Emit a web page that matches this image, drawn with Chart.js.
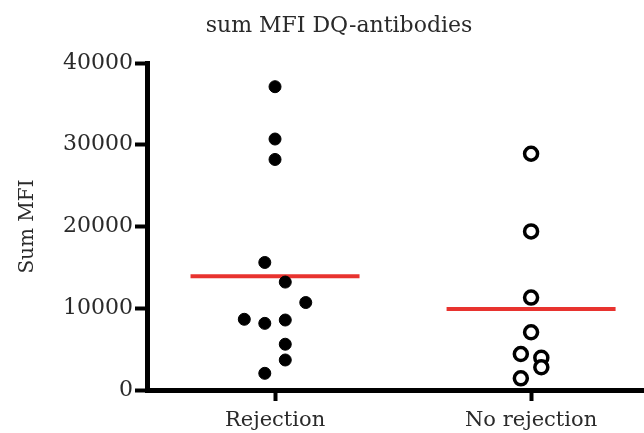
<!DOCTYPE html>
<html>
<head>
<meta charset="utf-8">
<script src="https://cdn.jsdelivr.net/npm/chart.js@4/dist/chart.umd.min.js"></script>
<style>
  html, body { margin: 0; padding: 0; background: #ffffff; }
  #wrap { width: 644px; height: 433px; position: relative; }
</style>
</head>
<body>
<div id="wrap"><canvas id="c" width="644" height="433"></canvas></div>
<script>
// ---- data ----
const chartTitle = "sum MFI DQ-antibodies";
const yAxisTitle = "Sum MFI";
const categories = ["Rejection", "No rejection"];
const yTicks = [0, 10000, 20000, 30000, 40000];

const rejectionValues = [37100, 30700, 28200, 15600, 13200, 10700, 8650, 8150, 8560, 5600, 3670, 2040];
const rejectionJitter = [0, 0, 0, -0.04, 0.04, 0.12, -0.12, -0.04, 0.04, 0.04, 0.04, -0.04];

const noRejectionValues = [28900, 19400, 11300, 7060, 4400, 3950, 2780, 1430];
const noRejectionJitter = [0, 0, 0, 0, -0.04, 0.04, 0.04, -0.04];

const groupMeans = [13900, 9900];

// ---- build datasets ----
const MEAN_HALF = 0.33;
function pts(pos, vals, jit) { return vals.map((v, i) => ({ x: pos + jit[i], y: v })); }
function meanLine(pos, m) { return [{ x: pos - MEAN_HALF, y: m }, { x: pos + MEAN_HALF, y: m }]; }

const FONT = "'DejaVu Serif', 'Liberation Serif', serif";
const TXT = "#2a2a2a";

const titlePlugin = {
  id: 'customTitle',
  afterDraw(chart) {
    const ctx = chart.ctx;
    ctx.save();
    ctx.font = "22px " + FONT;
    ctx.fillStyle = TXT;
    ctx.textAlign = "center";
    ctx.textBaseline = "middle";
    ctx.fillText(chartTitle, 339, 26);
    ctx.restore();
  }
};

new Chart(document.getElementById('c'), {
  type: 'scatter',
  data: {
    datasets: [
      {
        label: categories[0] + " mean",
        type: 'line',
        data: meanLine(1, groupMeans[0]),
        borderColor: '#e8332f',
        borderWidth: 4,
        pointRadius: 0,
        fill: false,
        order: 2
      },
      {
        label: categories[1] + " mean",
        type: 'line',
        data: meanLine(2, groupMeans[1]),
        borderColor: '#e8332f',
        borderWidth: 4,
        pointRadius: 0,
        fill: false,
        order: 2
      },
      {
        label: categories[0],
        data: pts(1, rejectionValues, rejectionJitter),
        backgroundColor: '#000000',
        borderColor: '#000000',
        borderWidth: 1,
        pointRadius: 6,
        order: 1
      },
      {
        label: categories[1],
        data: pts(2, noRejectionValues, noRejectionJitter),
        backgroundColor: '#ffffff',
        borderColor: '#000000',
        borderWidth: 3.5,
        pointRadius: 6.5,
        order: 1
      }
    ]
  },
  options: {
    responsive: false,
    animation: false,
    layout: { autoPadding: false, padding: { top: 63, right: 0, bottom: 0, left: 0 } },
    plugins: {
      legend: { display: false },
      tooltip: { enabled: false },
      title: { display: false }
    },
    scales: {
      x: {
        type: 'linear',
        min: 0.5,
        max: 2.441,
        afterBuildTicks: (axis) => { axis.ticks = [{ value: 1 }, { value: 2 }]; },
        afterFit: (axis) => { axis.height = 43; },
        ticks: {
          callback: (v) => categories[Math.round(v) - 1],
          font: { family: FONT, size: 21 },
          color: TXT,
          padding: 7,
          maxRotation: 0,
          autoSkip: false
        },
        grid: {
          display: true,
          drawOnChartArea: false,
          drawTicks: true,
          tickLength: 11,
          tickWidth: 4,
          tickColor: '#000000'
        },
        border: { display: true, color: '#000000', width: 5 }
      },
      y: {
        min: 0,
        max: 40000,
        afterBuildTicks: (axis) => { axis.ticks = yTicks.map(v => ({ value: v })); },
        afterFit: (axis) => { axis.width = 147; },
        ticks: {
          font: { family: FONT, size: 22 },
          color: TXT,
          padding: 2,
          callback: (v) => String(v)
        },
        grid: {
          display: true,
          drawOnChartArea: false,
          drawTicks: true,
          tickLength: 12,
          tickWidth: 4,
          tickColor: '#000000'
        },
        border: { display: true, color: '#000000', width: 5 },
        title: {
          display: true,
          text: yAxisTitle,
          font: { family: FONT, size: 20 },
          color: TXT,
          padding: { top: 16, bottom: 0 }
        }
      }
    }
  },
  plugins: [titlePlugin]
});
</script>
</body>
</html>
